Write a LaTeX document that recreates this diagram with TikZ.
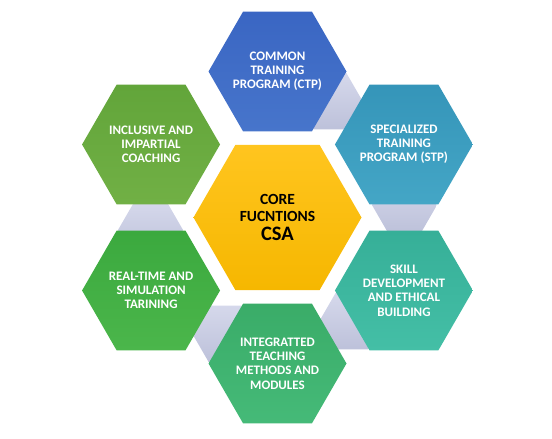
\documentclass[tikz,border=0pt]{standalone}
\usepackage{fontspec}
\setmainfont{Carlito}
\newcommand\hexshape[3]{%
  \path[#3] (#1) +(0:#2) -- +(60:#2) -- +(120:#2) -- +(180:#2) -- +(240:#2) -- +(300:#2) -- cycle;}
\begin{document}
\begin{tikzpicture}[x=1pt,y=-1pt,
  lbl/.style={text=white, font=\bfseries\fontsize{13}{14.2}\selectfont, align=center, inner sep=0pt},
  gap/.style={top color=gapTop, bottom color=gapBot},
  ctpfill/.style={top color=ctpA, bottom color=ctpB},
  stpfill/.style={top color=stpA, bottom color=stpB},
  skfill/.style={top color=skA, bottom color=skB},
  itmfill/.style={top color=itmA, bottom color=itmB},
  rtfill/.style={top color=rtA, bottom color=rtB},
  icfill/.style={top color=icA, bottom color=icB},
  corefill/.style={top color=coreA, bottom color=coreB}]
\definecolor{gapTop}{HTML}{D5D8EB}
\definecolor{gapBot}{HTML}{BDC1DA}
\definecolor{ctpA}{HTML}{3A66C3}
\definecolor{ctpB}{HTML}{4775CB}
\definecolor{stpA}{HTML}{3595B9}
\definecolor{stpB}{HTML}{44A6C6}
\definecolor{skA}{HTML}{36AF98}
\definecolor{skB}{HTML}{44BFA6}
\definecolor{itmA}{HTML}{3AAC68}
\definecolor{itmB}{HTML}{45BA78}
\definecolor{rtA}{HTML}{3BA93E}
\definecolor{rtB}{HTML}{4BB64B}
\definecolor{icA}{HTML}{62A53A}
\definecolor{icB}{HTML}{71B045}
\definecolor{coreA}{HTML}{FFC51F}
\definecolor{coreB}{HTML}{F6B700}
\useasboundingbox (0,0) rectangle (552,439);
\coordinate (O) at (277.5,217.5);
% outer positions (y axis points down, so angles run clockwise)
\path (O) ++(-90:146) coordinate (pCTP);
\path (O) ++(-30:146) coordinate (pSTP);
\path (O) ++(30:146) coordinate (pSK);
\path (O) ++(90:146) coordinate (pITM);
\path (O) ++(150:146) coordinate (pRT);
\path (O) ++(-150:146) coordinate (pIC);
% small connector hexagons behind the ring
\path (O) ++(-65.6:127.6) coordinate (s1);
\path (O) ++(-5.6:127.6) coordinate (s2);
\path (O) ++(54.4:127.6) coordinate (s3);
\path (O) ++(114.4:127.6) coordinate (s4);
\path (O) ++(174.4:127.6) coordinate (s5);
\hexshape{s1}{32.5}{gap}
\hexshape{s2}{32.5}{gap}
\hexshape{s3}{32.5}{gap}
\hexshape{s4}{32.5}{gap}
\hexshape{s5}{32.5}{gap}
% main hexagons
\hexshape{pCTP}{69}{ctpfill}
\hexshape{pSTP}{69}{stpfill}
\hexshape{pSK}{69}{skfill}
\hexshape{pITM}{69}{itmfill}
\hexshape{pRT}{69}{rtfill}
\hexshape{pIC}{69}{icfill}
\hexshape{O}{84}{corefill}
% labels
\node[lbl] (ctp) at (pCTP) {COMMON\\TRAINING\\PROGRAM (CTP)};
\node[lbl] (stp) at (pSTP) {SPECIALIZED\\TRAINING\\PROGRAM (STP)};
\node[lbl] (sk) at (pSK) {SKILL\\DEVELOPMENT\\AND ETHICAL\\BUILDING};
\node[lbl] (itm) at (pITM) {INTEGRATTED\\TEACHING\\METHODS AND\\MODULES};
\node[lbl] (rt) at (pRT) {REAL-TIME AND\\SIMULATION\\TARINING};
\node[lbl] (ic) at (pIC) {INCLUSIVE AND\\IMPARTIAL\\COACHING};
\node[font=\bfseries\fontsize{15.5}{16.7}\selectfont, align=center, inner sep=0pt] (core) at (O)
  {CORE\\FUCNTIONS\\[2pt]{\fontsize{20.5}{22}\selectfont CSA}};
\end{tikzpicture}
\end{document}
